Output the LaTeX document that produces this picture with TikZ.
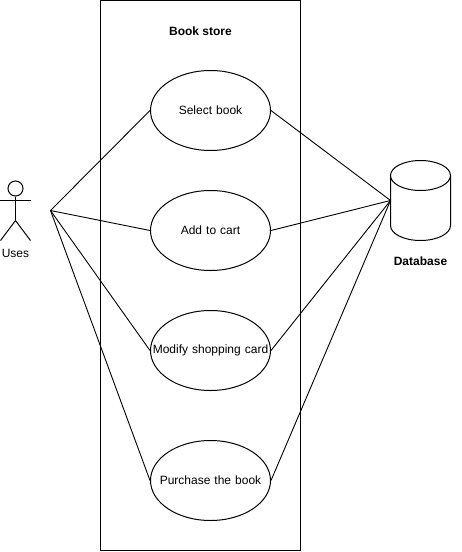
\documentclass[tikz,border=0pt]{standalone}
\usepackage{fontspec}
\setmainfont{Liberation Sans}
\usetikzlibrary{shapes.geometric}

\begin{document}
\begin{tikzpicture}[x=1pt,y=-1pt,line width=1pt]

\tikzset{usecase/.style = {shape=ellipse,draw,inner sep=0pt,minimum width=120pt,minimum height=80pt,text width=1pt,align=center,font=\fontsize{12}{14}\selectfont}}
\tikzset{caption/.style = {inner sep=0pt,font=\fontsize{12}{14}\selectfont\bfseries}}
\tikzset{edge/.style = {line width=0.9pt}}
\useasboundingbox (-0.5,-0.5) rectangle (460.5,551.5);
%system box
\node[draw,inner sep=0pt,minimum width=200pt,minimum height=550pt] (box) at (200,275) {};
\node[caption] (title) at (200,31) {Book store};
%use cases
\node[usecase] (select) at (210,110) {\makebox[0pt]{Select book}};
\node[usecase] (add) at (210,230) {\makebox[0pt]{Add to cart}};
\node[usecase] (modify) at (210,350) {\makebox[0pt]{Modify shopping card}};
\node[usecase] (purchase) at (210,480) {\makebox[0pt]{Purchase the book}};
%actor
\node[draw,circle,inner sep=0pt,minimum size=15pt] (head) at (15,188) {};
\coordinate (hip) at (15,220);
\coordinate (armL) at (0,200);
\coordinate (armR) at (30,200);
\coordinate (legL) at (0,240);
\coordinate (legR) at (30,240);
\coordinate (hub) at (50,210);
\draw (head) -- (hip);
\draw (armL) -- (armR);
\draw (legL) -- (hip) -- (legR);
\node[inner sep=0pt,font=\fontsize{12}{14}\selectfont] (uses) at (15,253) {Uses};
%database
\draw (390,175) -- (390,225) arc[start angle=180,end angle=360,x radius=30pt,y radius=15pt] -- (450,175) arc[start angle=0,end angle=360,x radius=30pt,y radius=15pt];
\node[caption] (dblabel) at (420,261) {Database};
\coordinate (dbin) at (390,200);
%edges
\draw [edge] (hub) -- (select.west);
\draw [edge] (hub) -- (add.west);
\draw [edge] (hub) -- (modify.west);
\draw [edge] (hub) -- (purchase.west);
\draw [edge] (select.east) -- (dbin);
\draw [edge] (add.east) -- (dbin);
\draw [edge] (modify.east) -- (dbin);
\draw [edge] (purchase.east) -- (dbin);

\end{tikzpicture}
\end{document}
